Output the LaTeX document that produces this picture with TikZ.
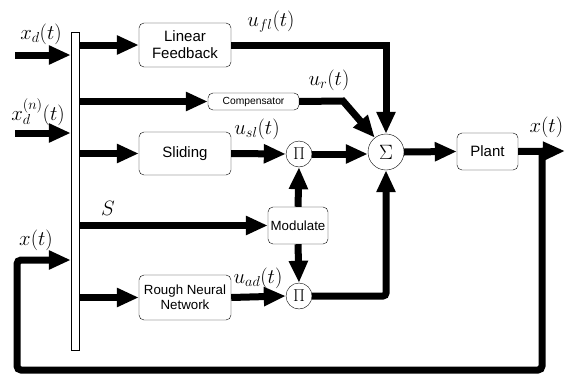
\documentclass[tikz,border=0pt]{standalone}
\usepackage{fontspec}
\setmainfont{Liberation Sans}
\usetikzlibrary{arrows.meta}

\begin{document}
\begin{tikzpicture}[x=1pt,y=-1pt,
  blk/.style={draw,rounded corners=5pt,thin,align=center,inner sep=1pt,font=\fontsize{15}{17}\selectfont},
  op/.style={draw,circle,thin,inner sep=0pt,font=\fontsize{18}{20}\selectfont},
  sig/.style={line width=7pt,-{Triangle[length=22pt,width=18pt]}},
  lbl/.style={font=\fontsize{21}{24}\selectfont}]

\useasboundingbox (0,0) rectangle (565,375);

\node[draw,thin,minimum width=8,minimum height=318,inner sep=0pt] (bar) at (75,191) {};

\node[blk,minimum width=92,minimum height=44] (lin) at (185,45) {Linear\\Feedback};
\node[blk,minimum width=91,minimum height=17,font=\fontsize{10.3}{12}\selectfont] (comp) at (253.5,101.5) {Compensator};
\node[blk,minimum width=92,minimum height=43] (slid) at (185,153.5) {Sliding};
\node[blk,minimum width=92,minimum height=45,font=\fontsize{13.3}{15}\selectfont] (rnn) at (185,297.5) {Rough Neural\\Network};
\node[blk,minimum width=60,minimum height=37,font=\fontsize{13.3}{15}\selectfont] (mod) at (298,225.5) {Modulate};
\node[blk,minimum width=61,minimum height=37] (plant) at (487.5,151.5) {Plant};

\node[op,minimum size=26] (pi1) at (299,154) {$\Pi$};
\node[op,minimum size=26] (pi2) at (299,296) {$\Pi$};
\node[op,minimum size=36,font=\fontsize{20}{22}\selectfont] (sum) at (386,152) {$\Sigma$};

\coordinate (in1) at (15,55);
\coordinate (in2) at (15,133);
\coordinate (bend) at (343,101);
\coordinate (out) at (565,151);
\coordinate (tap) at (542,151);

\draw[sig] (in1) -- (in1 -| bar.west);
\draw[sig] (in2) -- (in2 -| bar.west);

\foreach \b in {lin,comp,slid,rnn,mod}
  \draw[sig] (bar.east |- \b.west) -- (\b.west);

\draw[sig] (lin.east) -| (sum.north);
\draw[sig] (comp.east) -- (bend) -- (sum.128);
\draw[sig] (slid.east) -- (pi1.west);
\draw[sig] (pi1.east) -- (pi1.east -| sum.west);
\draw[sig] (rnn.east) -- (pi2.west);
\draw[sig,rounded corners=3pt] (pi2.east) -| (sum.south);
\draw[sig] (mod.north) -- (pi1.south);
\draw[sig] (mod.south) -- (pi2.north);
\draw[sig] (sum.east) -- (plant.west);
\draw[sig] (plant.east) -- (out);
\draw[sig,rounded corners=4pt] (tap) -- (542,370) -- (17,370) -- (17,260) -- (bar.west |- 0,260);

\node[lbl] (xd) at (41,34) {$x_d(t)$};
\node[lbl] (xdn) at (38,112) {$x_d^{(n)}(t)$};
\node[lbl] (xfb) at (36,240) {$x(t)$};
\node[lbl] (s) at (108,208) {$S$};
\node[lbl] (ufl) at (271,22) {$u_{fl}(t)$};
\node[lbl] (ur) at (329,80) {$u_r(t)$};
\node[lbl] (usl) at (257,129) {$u_{sl}(t)$};
\node[lbl] (uad) at (258,278) {$u_{ad}(t)$};
\node[lbl,anchor=west] (xout) at (526,127) {$x(t)$};

\end{tikzpicture}
\end{document}
